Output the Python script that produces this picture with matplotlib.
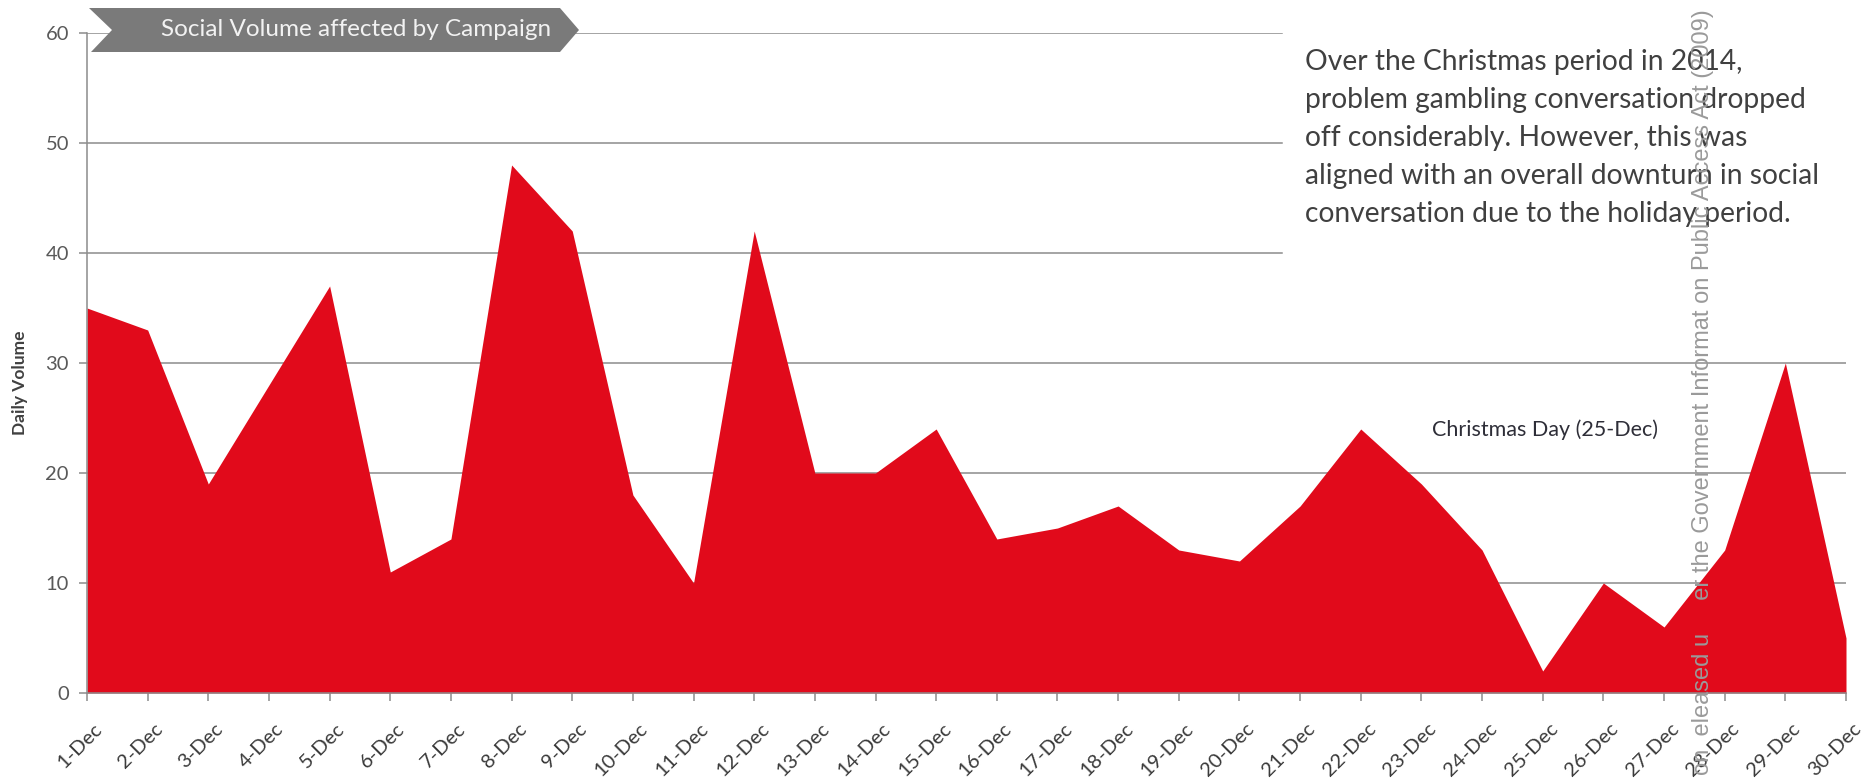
import matplotlib
matplotlib.use("Agg")
import matplotlib.pyplot as plt
from matplotlib.patches import Polygon
from matplotlib.transforms import ScaledTranslation

plt.rcParams['font.family'] = ['Lato', 'DejaVu Sans']

days = [f"{d}-Dec" for d in range(1, 31)]
volume = [35, 33, 19, 28, 37, 11, 14, 48, 42, 18, 10, 42, 20, 20, 24,
          14, 15, 17, 13, 12, 17, 24, 19, 13, 2, 10, 6, 13, 30, 5]
y_ticks = [0, 10, 20, 30, 40, 50, 60]

banner_text = "Social Volume affected by Campaign"
note_lines = [
    "Over the Christmas period in 2014,",
    "problem gambling conversation dropped",
    "off considerably. However, this was",
    "aligned with an overall downturn in social",
    "conversation due to the holiday period.",
]
xmas_label = "Christmas Day (25-Dec)"
stamp = "on  eleased u     er the Government Informat on Public Access Act (2009)"

W, H = 1865, 778
RED = '#E10A1B'
GRID = '#8c8c8c'


def fx(px):
    return px / W


def fy(py):
    return 1 - py / H


fig = plt.figure(figsize=(W / 100, H / 100), dpi=100)
ax = fig.add_axes([fx(87), 85 / H, (1846 - 87) / W, (693 - 33) / H])

x = list(range(len(days)))
ax.fill_between(x, volume, 0, color=RED, lw=0, zorder=2)

ax.set_xlim(0, len(days) - 1)
ax.set_ylim(0, 60)

# gridlines stop short where the note sits in the upper right
cut = (1282 - 87) / (1846 - 87)
for v in y_ticks[1:]:
    ax.axhline(v, xmax=cut if v >= 40 else 1, color=GRID, lw=1.1, zorder=1)

for s in ['top', 'right']:
    ax.spines[s].set_visible(False)
for s in ['left', 'bottom']:
    ax.spines[s].set_color(GRID)
    ax.spines[s].set_linewidth(1.1)
    ax.spines[s].set_zorder(3)

ax.set_yticks(y_ticks)
ax.set_xticks(x)
ax.set_xticklabels(days, rotation=45, ha='right', rotation_mode='anchor')
ax.tick_params(axis='y', direction='out', length=6, width=1.1, color=GRID,
               labelsize=14.5, labelcolor='#595959', pad=7)
ax.tick_params(axis='x', direction='out', length=6, width=1.1, color=GRID,
               labelsize=14.5, labelcolor='#3a3a3a', pad=5)
nudge = ScaledTranslation(6 / 100, -12 / 100, fig.dpi_scale_trans)
for lbl in ax.get_xticklabels():
    lbl.set_transform(lbl.get_transform() + nudge)

fig.text(fx(20), fy(383), "Daily Volume", rotation=90, ha='center',
         va='center', fontsize=12.5, fontweight='bold', color='#404040')

# chevron banner at the top of the axis
pts = [(89, 8), (560, 8), (579, 30), (560, 52), (91, 52), (112, 30)]
banner = Polygon([(fx(a), fy(b)) for a, b in pts], closed=True,
                 transform=fig.transFigure, facecolor='#7a7a7a',
                 edgecolor='none', zorder=5)
fig.add_artist(banner)
fig.text(fx(356), fy(30), banner_text, ha='center', va='center',
         fontsize=17.5, color='#f2f2f2', zorder=6)

for i, line in enumerate(note_lines):
    fig.text(fx(1305), fy(62 + 38 * i), line, ha='left', va='center',
             fontsize=20.3, color='#404040')

fig.text(fx(1432), fy(430), xmas_label, ha='left', va='center',
         fontsize=15.5, color='#2e2e38')

fig.text(fx(1703), fy(9), stamp, rotation=90, rotation_mode='anchor',
         ha='right', va='center', fontsize=17, color='#9a9a9a',
         family='Liberation Sans', zorder=10)

fig.savefig("out.png", dpi=100)
